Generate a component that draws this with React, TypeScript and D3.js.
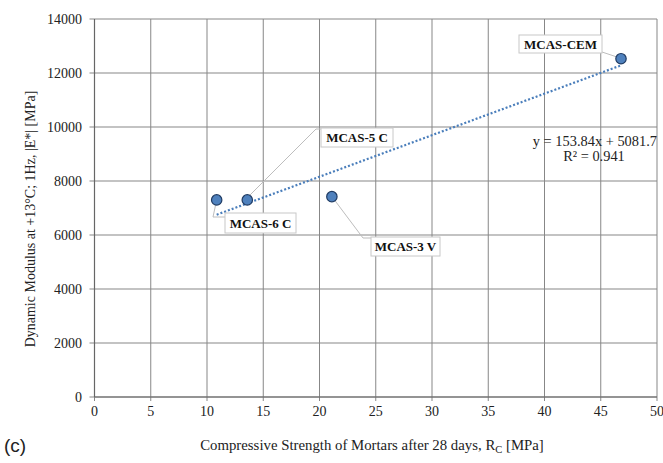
import React from "react";
import * as d3 from "d3";

const labels = ["MCAS-6 C", "MCAS-5 C", "MCAS-3 V", "MCAS-CEM"];
const strength = [10.86, 13.58, 21.1, 46.8];
const modulus = [7300, 7300, 7420, 12530];
const xTicks = [0, 5, 10, 15, 20, 25, 30, 35, 40, 45, 50];
const yTicks = [0, 2000, 4000, 6000, 8000, 10000, 12000, 14000];
const slope = 153.84;
const intercept = 5081.7;
const rSquared = 0.941;

const W = 663, H = 463;
const L = 94.5, R = 657, T = 19, B = 397;

const labelLayout = [
  { bx: 225, by: 213, bw: 71, bh: 20, leader: [[216, 203], [213, 217], [225, 217]] },
  { bx: 321, by: 128, bw: 72, bh: 19, leader: [[248, 197], [316, 129], [321, 129]] },
  { bx: 371, by: 237, bw: 69, bh: 19, leader: [[333, 198], [363, 238], [371, 238]] },
  { bx: 519, by: 35, bw: 83, bh: 18, leader: [[620, 58], [602, 52]] },
];

export default function App() {
  const x = d3.scaleLinear().domain([0, 50]).range([L, R]);
  const y = d3.scaleLinear().domain([0, 14000]).range([B, T]);
  const serif = "'Liberation Serif', 'Times New Roman', serif";
  const xMin = d3.min(strength)!, xMax = d3.max(strength)!;
  const line = d3.line<number>().x((d) => x(d)).y((d) => y(slope * d + intercept));
  const gridColor = "#878787";
  return (
    <svg width={W} height={H} style={{ position: "absolute", left: 0, top: 0, background: "#fff" }}>
      <rect width={W} height={H} fill="#fff" />
      {xTicks.map((t) => (
        <line key={"gx" + t} x1={x(t)} x2={x(t)} y1={T} y2={B + 4} stroke={gridColor} strokeWidth={1} />
      ))}
      {yTicks.map((t) => (
        <line key={"gy" + t} x1={L - 5} x2={R} y1={y(t)} y2={y(t)} stroke={gridColor} strokeWidth={1} />
      ))}
      <line x1={L} x2={L} y1={T} y2={B} stroke="#666" strokeWidth={1.2} />
      <line x1={L} x2={R} y1={B} y2={B} stroke="#666" strokeWidth={1.2} />
      {xTicks.map((t) => (
        <text key={"tx" + t} x={x(t)} y={416} textAnchor="middle" fontFamily={serif} fontSize={14} fill="#222">
          {t}
        </text>
      ))}
      {yTicks.map((t) => (
        <text key={"ty" + t} x={82} y={y(t) + 5} textAnchor="end" fontFamily={serif} fontSize={14} fill="#222">
          {t}
        </text>
      ))}
      <text x={372} y={450} textAnchor="middle" fontFamily={serif} fontSize={14.8} fill="#222">
        Compressive Strength of Mortars after 28 days, R
        <tspan fontSize={10.5} dy={3}>C</tspan>
        <tspan dy={-3}> [MPa]</tspan>
      </text>
      <text
        transform={`translate(35,219) rotate(-90)`}
        textAnchor="middle"
        fontFamily={serif}
        fontSize={14}
        fill="#222"
      >
        Dynamic Modulus at +13°C; 1Hz, |E*| [MPa]
      </text>
      <text x={4} y={452} fontFamily="'Liberation Sans', Arial, sans-serif" fontSize={19} fill="#222">
        (c)
      </text>
      {labelLayout.map((l, i) => (
        <polyline
          key={"ld" + i}
          points={l.leader.map((p) => p.join(",")).join(" ")}
          fill="none"
          stroke="#bdbdbd"
          strokeWidth={1}
        />
      ))}
      <path d={line([xMin, xMax])!} stroke="#4a7ebb" strokeWidth={2.2} strokeDasharray="2,2" fill="none" />
      {strength.map((s, i) => (
        <circle key={"pt" + i} cx={x(s)} cy={y(modulus[i])} r={5.2} fill="#4f81bd" stroke="#1f3b63" strokeWidth={1.2} />
      ))}
      {labels.map((lab, i) => {
        const l = labelLayout[i];
        return (
          <g key={"lb" + i}>
            <rect x={l.bx} y={l.by} width={l.bw} height={l.bh} fill="#fff" stroke="#c8c8c8" strokeWidth={1} />
            <text
              x={l.bx + l.bw / 2}
              y={l.by + l.bh / 2 + 4.5}
              textAnchor="middle"
              fontFamily={serif}
              fontWeight="bold"
              fontSize={13}
              fill="#111"
            >
              {lab}
            </text>
          </g>
        );
      })}
      <text x={657} y={146} textAnchor="end" fontFamily={serif} fontSize={14.4} fill="#222">
        {`y = ${slope}x + ${intercept}`}
      </text>
      <text x={594} y={161} textAnchor="middle" fontFamily={serif} fontSize={14.4} fill="#222">
        {`R² = ${rSquared}`}
      </text>
    </svg>
  );
}
